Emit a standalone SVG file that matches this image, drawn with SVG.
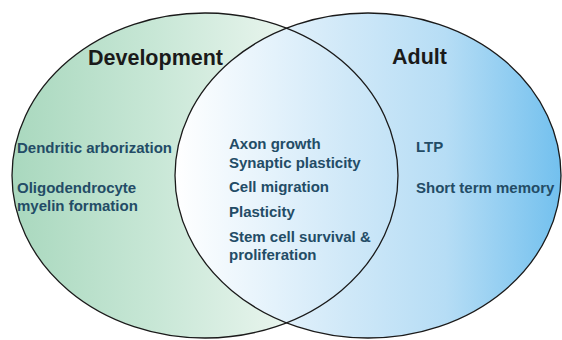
<svg xmlns="http://www.w3.org/2000/svg" width="562" height="340" viewBox="0 0 562 340">
  <defs>
    <linearGradient id="gLeft" gradientUnits="userSpaceOnUse" x1="12" y1="0" x2="300" y2="0">
      <stop offset="0" stop-color="#a9d8be"/>
      <stop offset="0.5" stop-color="#c8e7d6"/>
      <stop offset="1" stop-color="#ecf6f0"/>
    </linearGradient>
    <linearGradient id="gRight" gradientUnits="userSpaceOnUse" x1="175" y1="0" x2="562" y2="0">
      <stop offset="0" stop-color="#ffffff"/>
      <stop offset="0.45" stop-color="#cfe8f8"/>
      <stop offset="0.7" stop-color="#b6ddf5"/>
      <stop offset="1" stop-color="#72c0ee"/>
    </linearGradient>
  </defs>
  <style>
    .outline { fill: none; stroke: #1a1a1a; stroke-width: 1.3; }
    .title { font-family: "Liberation Sans", Arial, sans-serif; font-weight: bold; font-size: 21.5px; fill: #1a1a1a; }
    .item { font-family: "Liberation Sans", Arial, sans-serif; font-weight: bold; font-size: 15px; fill: #234c66; }
  </style>
  <rect width="562" height="340" fill="#ffffff"/>
  <g id="development">
    <ellipse cx="205" cy="175.5" rx="193" ry="162.5" fill="url(#gLeft)"/>
  </g>
  <g id="adult">
    <ellipse cx="368" cy="175.5" rx="193" ry="162.5" fill="url(#gRight)"/>
  </g>
  <g id="connectors">
    <ellipse class="outline" cx="205" cy="175.5" rx="193" ry="162.5"/>
    <ellipse class="outline" cx="368" cy="175.5" rx="193" ry="162.5"/>
  </g>
  <g id="development-labels">
    <text class="title" x="88" y="65">Development</text>
    <text class="item" x="17" y="153">Dendritic arborization</text>
    <text class="item" x="17" y="193">Oligodendrocyte</text>
    <text class="item" x="17" y="211">myelin formation</text>
  </g>
  <g id="shared-labels">
    <text class="item" x="229" y="149">Axon growth</text>
    <text class="item" x="229" y="168">Synaptic plasticity</text>
    <text class="item" x="229" y="192">Cell migration</text>
    <text class="item" x="229" y="217">Plasticity</text>
    <text class="item" x="229" y="242">Stem cell survival &amp;</text>
    <text class="item" x="229" y="260">proliferation</text>
  </g>
  <g id="adult-labels">
    <text class="title" x="392" y="64">Adult</text>
    <text class="item" x="416" y="152">LTP</text>
    <text class="item" x="416" y="193">Short term memory</text>
  </g>
</svg>
